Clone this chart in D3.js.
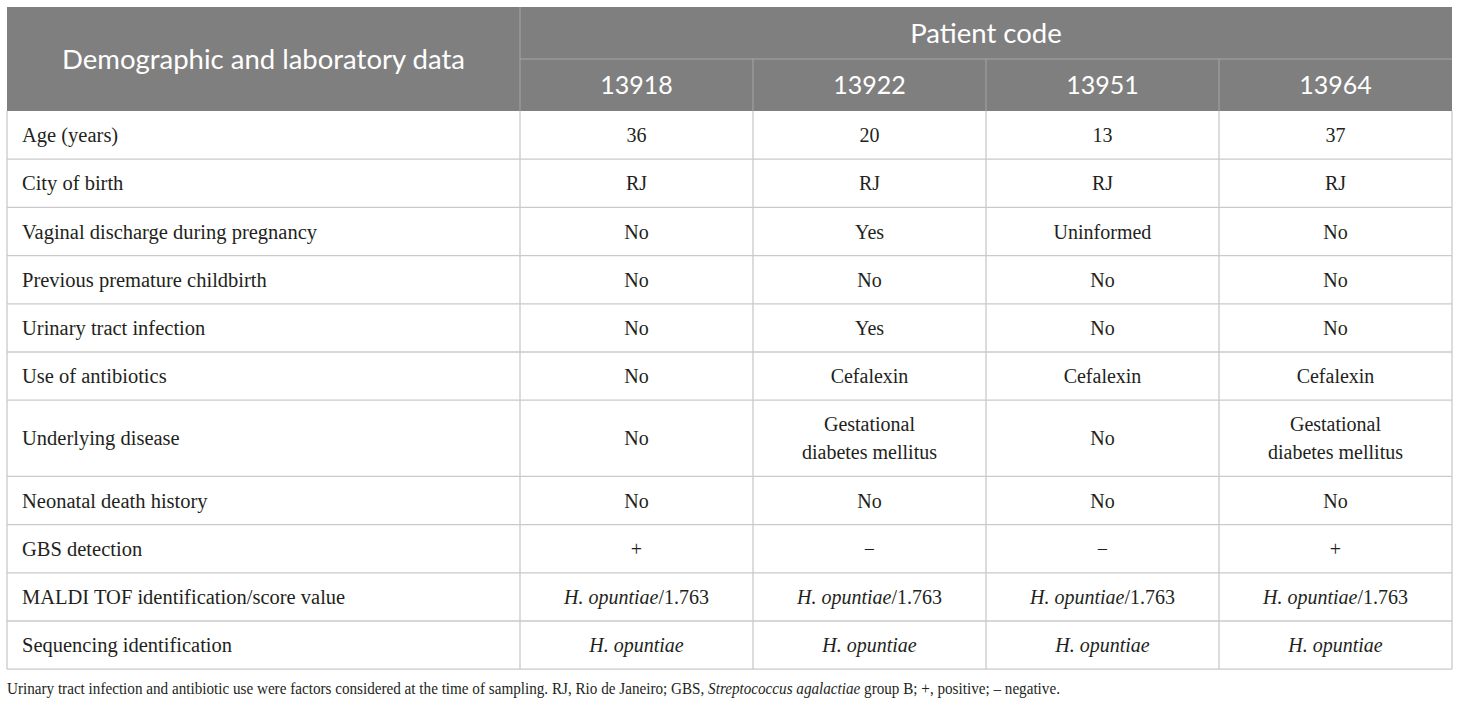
<!DOCTYPE html>
<html>
<head>
<meta charset="utf-8">
<script src="https://cdn.jsdelivr.net/npm/d3@7"></script>
<style>
  body { margin: 0; background: #fff; }
  svg { display: block; }
</style>
</head>
<body>
<svg width="1460" height="707"></svg>
<script>
var svg = d3.select("svg"),
    width = +svg.attr("width"),
    height = +svg.attr("height");

// table content
var rowHeader = "Demographic and laboratory data";
var groupHeader = "Patient code";
var patients = ["13918", "13922", "13951", "13964"];

var rowLabels = [
  "Age (years)",
  "City of birth",
  "Vaginal discharge during pregnancy",
  "Previous premature childbirth",
  "Urinary tract infection",
  "Use of antibiotics",
  "Underlying disease",
  "Neonatal death history",
  "GBS detection",
  "MALDI TOF identification/score value",
  "Sequencing identification"
];

// one array per patient, same order as rowLabels; *...* = italic, | = line break
var p13918 = ["36", "RJ", "No", "No", "No", "No", "No", "No", "+", "*H. opuntiae*/1.763", "*H. opuntiae*"];
var p13922 = ["20", "RJ", "Yes", "No", "Yes", "Cefalexin", "Gestational|diabetes mellitus", "No", "\u2212", "*H. opuntiae*/1.763", "*H. opuntiae*"];
var p13951 = ["13", "RJ", "Uninformed", "No", "No", "Cefalexin", "No", "No", "\u2212", "*H. opuntiae*/1.763", "*H. opuntiae*"];
var p13964 = ["37", "RJ", "No", "No", "No", "Cefalexin", "Gestational|diabetes mellitus", "No", "+", "*H. opuntiae*/1.763", "*H. opuntiae*"];
var columns = [p13918, p13922, p13951, p13964];

var footnote = "Urinary tract infection and antibiotic use were factors considered at the time of sampling. RJ, Rio de Janeiro; GBS, *Streptococcus agalactiae* group B; +, positive; \u2013 negative.";

var headFill = "#7f7f7f",
    headLine = "#a6a6a6",
    gridLine = "#cacaca",
    ink = "#231f20",
    serif = "'Liberation Serif', 'DejaVu Serif', serif",
    sans = "Lato, 'Open Sans', sans-serif";

var tLeft = 7, tRight = 1452, tTop = 7, colSplit = 520;
var headRow = 52, baseRow = 48.2, extraLine = 28;

// columns
var x = d3.scaleBand().domain(patients).range([colSplit, tRight]);

// rows: height grows with number of lines in the tallest cell
var rows = rowLabels.map(function(label, i) {
  var lines = d3.max(columns, function(c) { return c[i].split("|").length; });
  return { label: label, i: i, h: baseRow + (lines - 1) * extraLine };
});
var bodyTop = tTop + headRow * 2;
var acc = bodyTop;
rows.forEach(function(r) { r.y0 = acc; acc += r.h; r.y1 = acc; });
var bodyBottom = acc;

var y = d3.scaleOrdinal().domain(rowLabels).range(rows.map(function(r) { return r.y0; }));

// write text with *italic* runs
function richText(sel, str) {
  str.split("*").forEach(function(part, k) {
    if (!part) return;
    sel.append("tspan")
      .attr("font-style", k % 2 ? "italic" : "normal")
      .text(part);
  });
}

// header block
svg.append("rect")
    .attr("x", tLeft).attr("y", tTop)
    .attr("width", tRight - tLeft).attr("height", headRow * 2)
    .attr("fill", headFill);

svg.append("line")
    .attr("x1", colSplit).attr("x2", colSplit)
    .attr("y1", tTop).attr("y2", tTop + headRow * 2)
    .attr("stroke", headLine);
svg.append("line")
    .attr("x1", colSplit).attr("x2", tRight)
    .attr("y1", tTop + headRow).attr("y2", tTop + headRow)
    .attr("stroke", headLine);
svg.selectAll(".hsep")
  .data(patients.slice(1))
  .enter().append("line")
    .attr("class", "hsep")
    .attr("x1", function(d) { return x(d); }).attr("x2", function(d) { return x(d); })
    .attr("y1", tTop + headRow).attr("y2", tTop + headRow * 2)
    .attr("stroke", headLine);

svg.append("text")
    .attr("x", (tLeft + colSplit) / 2).attr("y", tTop + headRow)
    .attr("dy", "0.36em")
    .attr("text-anchor", "middle")
    .attr("fill", "#fff")
    .style("font-family", sans).style("font-size", "27.5px")
    .text(rowHeader);

svg.append("text")
    .attr("x", (colSplit + tRight) / 2).attr("y", tTop + headRow / 2)
    .attr("dy", "0.36em")
    .attr("text-anchor", "middle")
    .attr("fill", "#fff")
    .style("font-family", sans).style("font-size", "27.5px")
    .text(groupHeader);

svg.selectAll(".pcode")
  .data(patients)
  .enter().append("text")
    .attr("class", "pcode")
    .attr("x", function(d) { return x(d) + x.bandwidth() / 2; })
    .attr("y", tTop + headRow * 1.5)
    .attr("dy", "0.36em")
    .attr("text-anchor", "middle")
    .attr("fill", "#fff")
    .style("font-family", sans).style("font-size", "25px")
    .text(function(d) { return d; });

// body grid
svg.selectAll(".hline")
  .data(rows)
  .enter().append("line")
    .attr("class", "hline")
    .attr("x1", tLeft).attr("x2", tRight)
    .attr("y1", function(d) { return d.y1; }).attr("y2", function(d) { return d.y1; })
    .attr("stroke", gridLine).attr("stroke-width", 1.3);

svg.selectAll(".vline")
  .data([tLeft, colSplit].concat(patients.slice(1).map(x)).concat([tRight]))
  .enter().append("line")
    .attr("class", "vline")
    .attr("x1", function(d) { return d; }).attr("x2", function(d) { return d; })
    .attr("y1", bodyTop).attr("y2", bodyBottom)
    .attr("stroke", gridLine).attr("stroke-width", 1.3);

// row labels
svg.selectAll(".rlabel")
  .data(rows)
  .enter().append("text")
    .attr("class", "rlabel")
    .attr("x", 22)
    .attr("y", function(d) { return y(d.label) + d.h / 2; })
    .attr("dy", "0.35em")
    .attr("fill", ink)
    .style("font-family", serif).style("font-size", "20.5px")
    .text(function(d) { return d.label; });

// cells
columns.forEach(function(col, ci) {
  var cx = x(patients[ci]) + x.bandwidth() / 2;
  svg.selectAll(".cell-" + ci)
    .data(col)
    .enter().append("text")
      .attr("class", "cell-" + ci)
      .attr("text-anchor", "middle")
      .attr("fill", ink)
      .style("font-family", serif).style("font-size", "20px")
      .each(function(d, i) {
        var r = rows[i], lines = d.split("|"), t = d3.select(this);
        var mid = y(r.label) + r.h / 2;
        lines.forEach(function(line, li) {
          var ly = mid + (li - (lines.length - 1) / 2) * extraLine;
          var g = t.append("tspan").attr("x", cx).attr("y", ly).attr("dy", "0.35em");
          line.split("*").forEach(function(part, k) {
            if (!part) return;
            g.append("tspan")
              .attr("font-style", k % 2 ? "italic" : "normal")
              .text(part);
          });
        });
      });
});

// footnote: squeeze horizontally to the condensed width of the original
var fnG = svg.append("g");
var fn = fnG.append("text")
    .attr("x", 0).attr("y", 0)
    .attr("dy", "0.35em")
    .attr("fill", ink)
    .style("font-family", serif).style("font-size", "17.5px");
richText(fn, footnote);
var natural = fn.node().getComputedTextLength();
fnG.attr("transform", "translate(" + tLeft + "," + (bodyBottom + 19) + ") scale(" + (1054 / natural) + ",1)");
</script>
</body>
</html>
